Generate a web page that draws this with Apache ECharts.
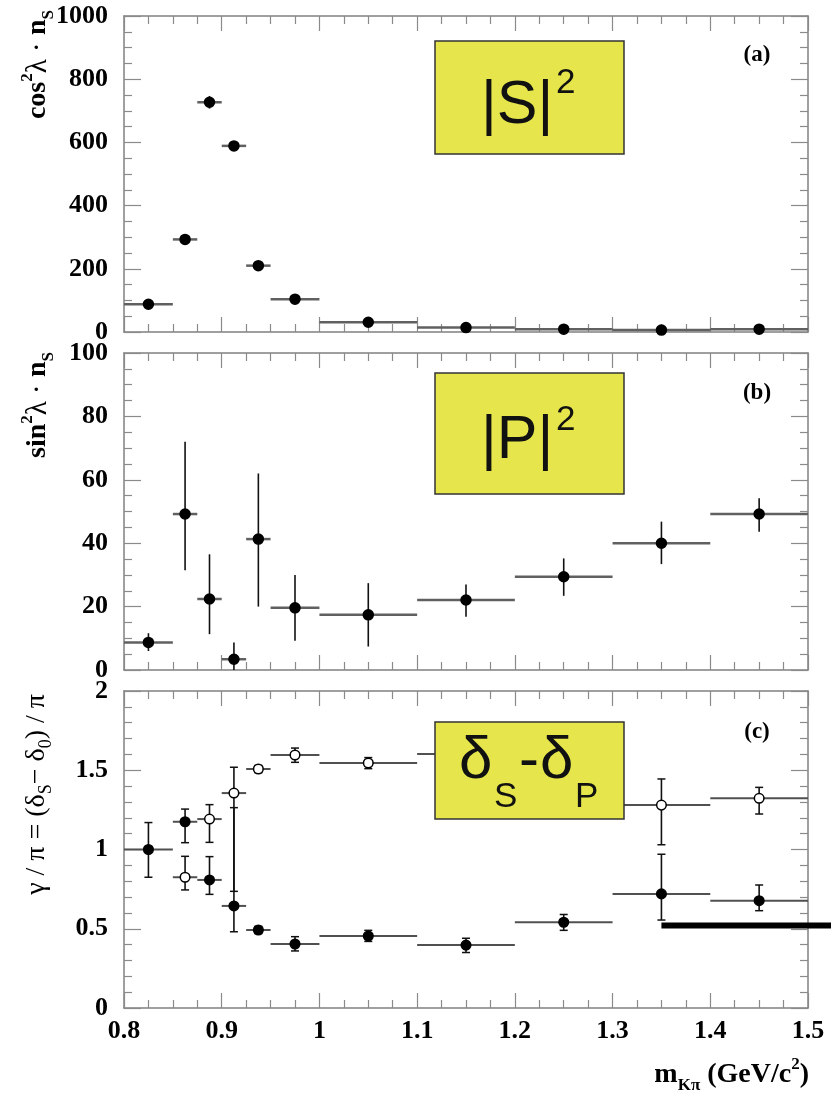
<!DOCTYPE html>
<html>
<head>
<meta charset="utf-8">
<title>S and P waves</title>
<script src="https://cdn.jsdelivr.net/npm/echarts@6/dist/echarts.min.js"></script>
<style>
  html, body { margin: 0; padding: 0; background: #fff; }
  #main { width: 831px; height: 1093px; }
</style>
</head>
<body>
<div id="main"></div>
<script type="text/javascript">
// bins in m(K pi), GeV/c^2
var binLo = [0.8, 0.85, 0.875, 0.9, 0.925, 0.95, 1.0, 1.1, 1.2, 1.3, 1.4];
var binHi = [0.85, 0.875, 0.9, 0.925, 0.95, 1.0, 1.1, 1.2, 1.3, 1.4, 1.5];
var mass  = [0.825, 0.8625, 0.8875, 0.9125, 0.9375, 0.975, 1.05, 1.15, 1.25, 1.35, 1.45];

// (a) cos^2 lambda * nS
var sWave    = [88, 293, 727, 589, 210, 104, 31, 14, 9, 6, 9];
var sWaveErr = [8, 14, 20, 14, 10, 6, 3, 2, 2, 1, 1];

// (b) sin^2 lambda * nS
var pWave   = [8.7, 49.2, 22.4, 3.4, 41.3, 19.6, 17.4, 22.1, 29.4, 40, 49.2];
var pWaveLo = [6, 31.5, 11.3, 0, 20, 9.2, 7.4, 16.8, 23.4, 33.4, 43.6];
var pWaveHi = [11.6, 72, 36.5, 8.7, 62, 30, 27.4, 27, 35.2, 46.8, 54.2];

// (c) phase difference / pi, two solutions
var phaseA   = [1.0, 1.175, 0.808, 0.644, 0.492, 0.404, 0.454, 0.397, 0.541, 0.72, 0.677];
var phaseALo = [0.825, 1.043, 0.717, 0.481, 0.47, 0.36, 0.42, 0.35, 0.49, 0.555, 0.614];
var phaseAHi = [1.17, 1.255, 0.955, 1.264, 0.515, 0.45, 0.49, 0.44, 0.59, 0.97, 0.776];
var phaseB   = [null, 0.825, 1.192, 1.356, 1.508, 1.596, 1.546, 1.603, 1.459, 1.28, 1.323];
var phaseBLo = [null, 0.745, 1.045, 0.736, 1.485, 1.55, 1.51, 1.56, 1.41, 1.03, 1.224];
var phaseBHi = [null, 0.957, 1.283, 1.519, 1.53, 1.64, 1.58, 1.65, 1.51, 1.445, 1.392];

// thick marker line in (c), starts at this point and runs off the right edge
var markStart = [1.35, 0.52];

function rows(val, lo, hi) {
    var out = [];
    for (var i = 0; i < mass.length; i++) {
        if (val[i] == null) continue;
        out.push([mass[i], val[i], binLo[i], binHi[i], lo[i], hi[i]]);
    }
    return out;
}

function errRender(opt) {
    return function (params, api) {
        var c = api.coord([api.value(0), api.value(1)]);
        var l = api.coord([api.value(2), api.value(1)]);
        var r = api.coord([api.value(3), api.value(1)]);
        var b = api.coord([api.value(0), api.value(4)]);
        var t = api.coord([api.value(0), api.value(5)]);
        var kids = [
            { type: 'line', shape: { x1: l[0], y1: l[1], x2: r[0], y2: r[1] },
              style: { stroke: opt.binColor, lineWidth: opt.binWidth } },
            { type: 'line', shape: { x1: c[0], y1: b[1], x2: c[0], y2: t[1] },
              style: { stroke: '#111', lineWidth: 1.6 } }
        ];
        if (opt.caps) {
            kids.push({ type: 'line', shape: { x1: c[0] - 4, y1: b[1], x2: c[0] + 4, y2: b[1] }, style: { stroke: '#111', lineWidth: 1.5 } });
            kids.push({ type: 'line', shape: { x1: c[0] - 4, y1: t[1], x2: c[0] + 4, y2: t[1] }, style: { stroke: '#111', lineWidth: 1.5 } });
        }
        kids.push({ type: 'circle', shape: { cx: c[0], cy: c[1], r: opt.r },
            style: { fill: opt.open ? '#fff' : '#000', stroke: '#000', lineWidth: 1.5 } });
        return { type: 'group', children: kids };
    };
}

var serif = 'Liberation Serif';
var frame = { show: true, onZero: false, lineStyle: { color: '#808080', width: 1.5 } };

function xAx(grid, pos, labels) {
    return {
        type: 'value', gridIndex: grid, position: pos, min: 0.8, max: 1.5, interval: 0.1,
        axisLine: frame,
        axisTick: { show: true, inside: true, length: 15, lineStyle: { color: '#8a8a8a', width: 1.2 } },
        minorTick: { show: true, splitNumber: 4, length: 8, lineStyle: { color: '#8a8a8a', width: 1.2 } },
        splitLine: { show: false },
        axisLabel: { show: labels, margin: 10, color: '#000', fontFamily: serif, fontWeight: 'bold', fontSize: 26,
            formatter: function (v) { return String(+v.toFixed(2)); } }
    };
}

function yAx(grid, pos, max, step, minor, labels) {
    return {
        type: 'value', gridIndex: grid, position: pos, min: 0, max: max, interval: step,
        axisLine: frame,
        axisTick: { show: true, inside: true, length: 17, lineStyle: { color: '#8a8a8a', width: 1.2 } },
        minorTick: { show: true, splitNumber: minor, length: 8, lineStyle: { color: '#8a8a8a', width: 1.2 } },
        splitLine: { show: false },
        axisLabel: { show: labels, margin: 16, color: '#000', fontFamily: serif, fontWeight: 'bold', fontSize: 26,
            showMinLabel: true, showMaxLabel: true,
            formatter: function (v) { return String(+v.toFixed(2)); } }
    };
}

var yellow = '#e6e64c';
function box(x, y, w, h) {
    return { type: 'rect', z: 100, shape: { x: x, y: y, width: w, height: h },
        style: { fill: yellow, stroke: '#333', lineWidth: 1.5 } };
}
function txt(x, y, s, size) {
    return { type: 'text', z: 101, style: { text: s, x: x, y: y, fill: '#111',
        fontFamily: 'Liberation Sans', fontSize: size,
        align: 'left', verticalAlign: 'middle', textAlign: 'left', textVerticalAlign: 'middle' } };
}
function tag(y, s) {
    return { type: 'text', z: 50, style: { text: s, x: 757, y: y, fontFamily: serif, fontWeight: 'bold',
        fontSize: 23, fill: '#000', align: 'center', verticalAlign: 'middle',
        textAlign: 'center', textVerticalAlign: 'middle' } };
}

var richBold = {
    b:   { fontFamily: serif, fontWeight: 'bold', fontSize: 28, lineHeight: 38, fill: '#000' },
    g:   { fontFamily: serif, fontSize: 29, lineHeight: 38, fill: '#000' },
    sup: { fontFamily: serif, fontWeight: 'bold', fontSize: 17, lineHeight: 20, verticalAlign: 'top', fill: '#000' },
    sub: { fontFamily: serif, fontWeight: 'bold', fontSize: 17, lineHeight: 17, verticalAlign: 'bottom', fill: '#000' }
};
var richThin = {
    g:   { fontFamily: serif, fontSize: 28, lineHeight: 36, fill: '#000' },
    sub: { fontFamily: serif, fontSize: 18, lineHeight: 17, verticalAlign: 'bottom', fill: '#000' }
};

function yTitle(x, y, s, rich) {
    return { type: 'text', x: x, y: y, rotation: Math.PI / 2, z: 50,
        style: { text: s, rich: rich, align: 'right', verticalAlign: 'middle',
                 textAlign: 'right', textVerticalAlign: 'middle' } };
}

var graphics = [
    box(435, 41, 189, 113),
    txt(481, 106, '|S|', 61),
    txt(556, 83, '2', 35),
    box(435, 373, 189, 121),
    txt(481, 441, '|P|', 61),
    txt(556, 420, '2', 35),
    box(435, 722, 189, 97),
    txt(459, 761, 'δ', 60),
    txt(494, 797, 'S', 35),
    txt(519, 761, '-', 60),
    txt(540, 761, 'δ', 60),
    txt(575, 797, 'P', 35),
    tag(55, '(a)'),
    tag(393, '(b)'),
    tag(732, '(c)'),
    yTitle(38, 10, '{b|cos}{sup|2}{g|λ}{g| · }{b|n}{sub|S}', richBold),
    yTitle(38, 352, '{b|sin}{sup|2}{g|λ}{g| · }{b|n}{sub|S}', richBold),
    yTitle(37, 694, '{g|γ / π = (δ}{sub|S}{g|− δ}{sub|0}{g|) / π}', richThin),
    { type: 'text', z: 50, style: { text: '{b|m}{sub|Kπ}{b| (GeV/c}{sup|2}{b|)}', rich: richBold,
        x: 809, y: 1075, align: 'right', verticalAlign: 'middle', textAlign: 'right', textVerticalAlign: 'middle' } }
];

var myChart = echarts.init(document.getElementById('main'));

var option = {
    animation: false,
    backgroundColor: '#fff',
    grid: [
        { left: 124, right: 23, top: 16, height: 316 },
        { left: 124, right: 23, top: 353, height: 317 },
        { left: 124, right: 23, top: 691, height: 317 }
    ],
    xAxis: [
        xAx(0, 'bottom', false), xAx(1, 'bottom', false), xAx(2, 'bottom', true),
        xAx(0, 'top', false), xAx(1, 'top', false), xAx(2, 'top', false)
    ],
    yAxis: [
        yAx(0, 'left', 1000, 200, 4, true), yAx(1, 'left', 100, 20, 4, true), yAx(2, 'left', 2, 0.5, 5, true),
        yAx(0, 'right', 1000, 200, 4, false), yAx(1, 'right', 100, 20, 4, false), yAx(2, 'right', 2, 0.5, 5, false)
    ],
    series: [
        {
            type: 'custom', name: 'S', xAxisIndex: 0, yAxisIndex: 0,
            renderItem: errRender({ binColor: '#606060', binWidth: 2.5, r: 5, caps: false, open: false }),
            data: rows(sWave,
                sWave.map(function (v, i) { return v - sWaveErr[i]; }),
                sWave.map(function (v, i) { return v + sWaveErr[i]; }))
        },
        {
            type: 'custom', name: 'P', xAxisIndex: 1, yAxisIndex: 1,
            renderItem: errRender({ binColor: '#606060', binWidth: 2.5, r: 5, caps: false, open: false }),
            data: rows(pWave, pWaveLo, pWaveHi)
        },
        {
            type: 'custom', name: 'phase 1', xAxisIndex: 2, yAxisIndex: 2,
            renderItem: errRender({ binColor: '#505050', binWidth: 2, r: 4.8, caps: true, open: false }),
            data: rows(phaseA, phaseALo, phaseAHi)
        },
        {
            type: 'custom', name: 'phase 2', xAxisIndex: 2, yAxisIndex: 2,
            renderItem: errRender({ binColor: '#505050', binWidth: 2, r: 4.8, caps: true, open: true }),
            data: rows(phaseB, phaseBLo, phaseBHi)
        }
    ],
    graphic: graphics
};

myChart.setOption(option);

// thick black line from markStart to the right edge of the canvas
var p0 = myChart.convertToPixel({ gridIndex: 2 }, markStart);
graphics.push({ type: 'line', z: 90,
    shape: { x1: p0[0], y1: p0[1], x2: myChart.getWidth(), y2: p0[1] },
    style: { stroke: '#000', lineWidth: 6 } });
myChart.setOption({ graphic: graphics }, { replaceMerge: ['graphic'] });
</script>
</body>
</html>
